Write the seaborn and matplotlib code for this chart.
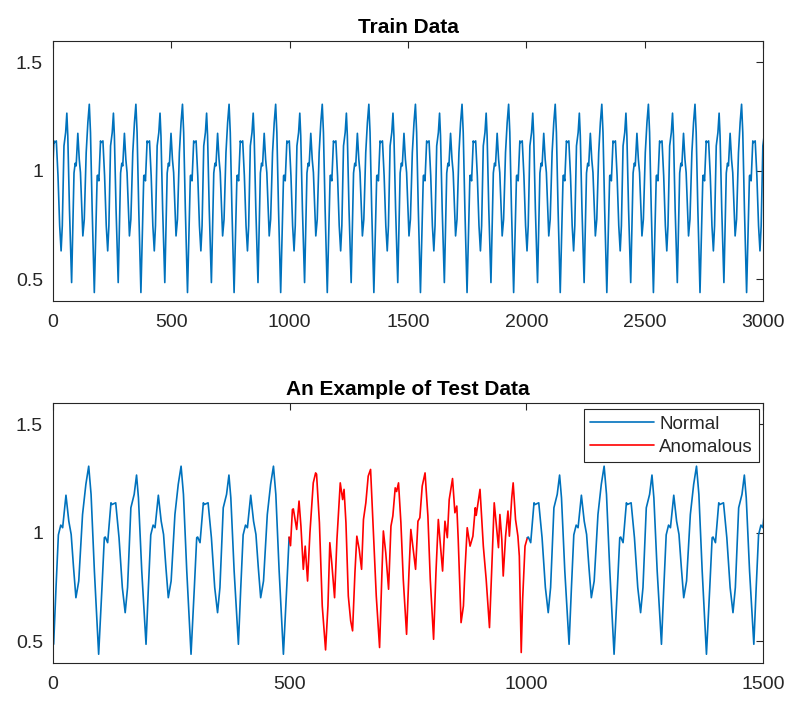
import numpy as np
import pandas as pd
import matplotlib
matplotlib.use("Agg")
import matplotlib.pyplot as plt
import seaborn as sns

# one normal cycle (two breaths): sample offset -> value
CYCLE_LEN = 195
cycle_t = [0, 5, 10, 15, 19, 26, 32, 37, 42, 47, 53, 61, 68, 74, 79, 86,
           95, 102, 107, 109, 114, 121, 123, 131, 138, 145, 151, 156, 163,
           170, 175, 179, 186]
cycle_v = [0.485, 0.747, 0.99, 1.035, 1.023, 1.173, 1.053, 0.992, 0.839,
           0.70, 0.777, 1.084, 1.223, 1.307, 1.177, 0.823,
           0.439, 0.747, 0.977, 0.98, 0.954, 1.138, 1.13, 1.138, 0.977,
           0.747, 0.631, 0.747, 1.115, 1.177, 1.266, 1.161, 0.823]

# where the cycles sit in each series
train_first_start = -116.85
train_period = 196.7
test_first_start = -193
test_after_start = 895
test_period = 195

# anomalous stretch of the test series
red_s = [499, 502, 506, 508, 515, 520, 524, 529, 533, 538, 543, 550, 555, 557,
         563, 569, 576, 581, 585, 589, 595, 600, 607, 612, 615, 619, 624, 629,
         633, 638, 642, 647, 652, 656, 661, 666, 671, 677, 683, 690, 695, 698,
         703, 709, 714, 718, 723, 726, 730, 735, 740, 747, 752, 756, 761, 766,
         771, 775, 780, 786, 792, 797, 804, 809, 814, 818, 823, 828, 833, 837,
         844, 849, 853, 856, 862, 867, 870, 875, 881, 887, 892, 894, 902, 909,
         915, 922, 927, 932, 936, 941, 944, 948, 951, 956, 961, 964, 969, 972,
         977, 982, 985, 989, 992, 997, 1002]
red_v = [0.98, 0.94, 1.107, 1.11, 1.015, 1.146, 1.03, 0.831, 0.938, 0.777,
         1.0, 1.23, 1.276, 1.27, 1.046, 0.662, 0.459, 0.662, 0.954, 0.862,
         0.70, 0.969, 1.23, 1.153, 1.2, 1.046, 0.708, 0.593, 0.547, 0.816,
         0.984, 0.923, 0.831, 1.061, 1.138, 1.261, 1.292, 1.0, 0.708, 0.47,
         0.816, 1.008, 0.908, 0.739, 1.03, 1.077, 1.207, 1.19, 1.23, 1.046,
         0.785, 0.531, 0.816, 1.015, 0.923, 0.831, 1.053, 1.069, 1.215, 1.276,
         1.077, 0.785, 0.508, 0.816, 1.061, 0.954, 0.823, 1.053, 0.977, 1.153,
         1.25, 1.092, 1.123, 0.969, 0.585, 0.662, 0.816, 1.023, 0.938, 0.984,
         1.115, 1.08, 1.2, 0.938, 0.785, 0.562, 0.846, 1.138, 1.046, 0.931,
         1.084, 0.969, 0.8, 0.984, 1.1, 0.984, 1.161, 1.23, 1.061, 0.984,
         0.892, 0.447, 0.693, 0.938, 0.977]

x_ticks_train = [0, 500, 1000, 1500, 2000, 2500, 3000]
x_ticks_test = [0, 500, 1000, 1500]
y_ticks = [0.5, 1, 1.5]
y_tick_labels = ["0.5", "1", "1.5"]

BLUE = "#0072BD"
RED = "#FF0000"
DARK = "#262626"


def tile_cycle(first_start, period, lo, hi):
    xs, ys = [], []
    scale = period / CYCLE_LEN
    start = first_start
    while start < hi:
        for t, v in zip(cycle_t, cycle_v):
            s = start + t * scale
            if lo <= s <= hi:
                xs.append(s)
                ys.append(v)
        start += period
    return pd.DataFrame({"sample": xs, "value": ys})


train_df = tile_cycle(train_first_start, train_period, -12, 3012)
normal_1 = tile_cycle(test_first_start, test_period, -12, 500)
normal_2 = tile_cycle(test_after_start, test_period, 1002, 1512)
anomal_df = pd.DataFrame({"sample": red_s, "value": red_v})

sns.set_style("white")
plt.rcParams["font.family"] = ["Liberation Sans", "DejaVu Sans"]

fig = plt.figure(figsize=(7.97, 7.08), dpi=100)
ax1 = fig.add_axes([52.7 / 797, 1 - 301 / 708, 710.6 / 797, 260.3 / 708])
ax2 = fig.add_axes([52.7 / 797, 1 - 662.7 / 708, 710.6 / 797, 260 / 708])

lw = 1.2
sns.lineplot(data=train_df, x="sample", y="value", ax=ax1, color=BLUE,
             linewidth=lw, estimator=None, sort=False)
sns.lineplot(data=normal_1, x="sample", y="value", ax=ax2, color=BLUE,
             linewidth=lw, estimator=None, sort=False, label="Normal")
sns.lineplot(data=anomal_df, x="sample", y="value", ax=ax2, color=RED,
             linewidth=lw, estimator=None, sort=False, label="Anomalous")
sns.lineplot(data=normal_2, x="sample", y="value", ax=ax2, color=BLUE,
             linewidth=lw, estimator=None, sort=False, label="_nolegend_")

for ax, xmax, xt, title in [(ax1, 3000, x_ticks_train, "Train Data"),
                            (ax2, 1500, x_ticks_test, "An Example of Test Data")]:
    ax.set_xlim(0, xmax)
    ax.set_ylim(0.4, 1.6)
    ax.set_xticks(xt)
    ax.set_xticklabels([str(v) for v in xt])
    ax.set_yticks(y_ticks)
    ax.set_yticklabels(y_tick_labels)
    ax.set_xlabel("")
    ax.set_ylabel("")
    ax.set_title(title, fontsize=15, fontweight="bold", pad=5.5, color="black")
    for sp in ax.spines.values():
        sp.set_visible(True)
        sp.set_color(DARK)
        sp.set_linewidth(0.8)
    ax.tick_params(direction="in", length=5, width=0.8, colors=DARK,
                   top=True, right=True, labelsize=14)
    ax.tick_params(axis="x", pad=9.5)
    ax.tick_params(axis="y", pad=7)

leg = ax2.legend(loc="upper right", bbox_to_anchor=(759.3 / 797, 1 - 409.3 / 708),
                 bbox_transform=fig.transFigure, borderaxespad=0,
                 fontsize=13.5, handlelength=3.4, handletextpad=0.27,
                 borderpad=0.35, labelspacing=0.3, fancybox=False,
                 framealpha=1, edgecolor=DARK)
leg.get_frame().set_linewidth(0.8)

fig.savefig("out.png", dpi=100)
